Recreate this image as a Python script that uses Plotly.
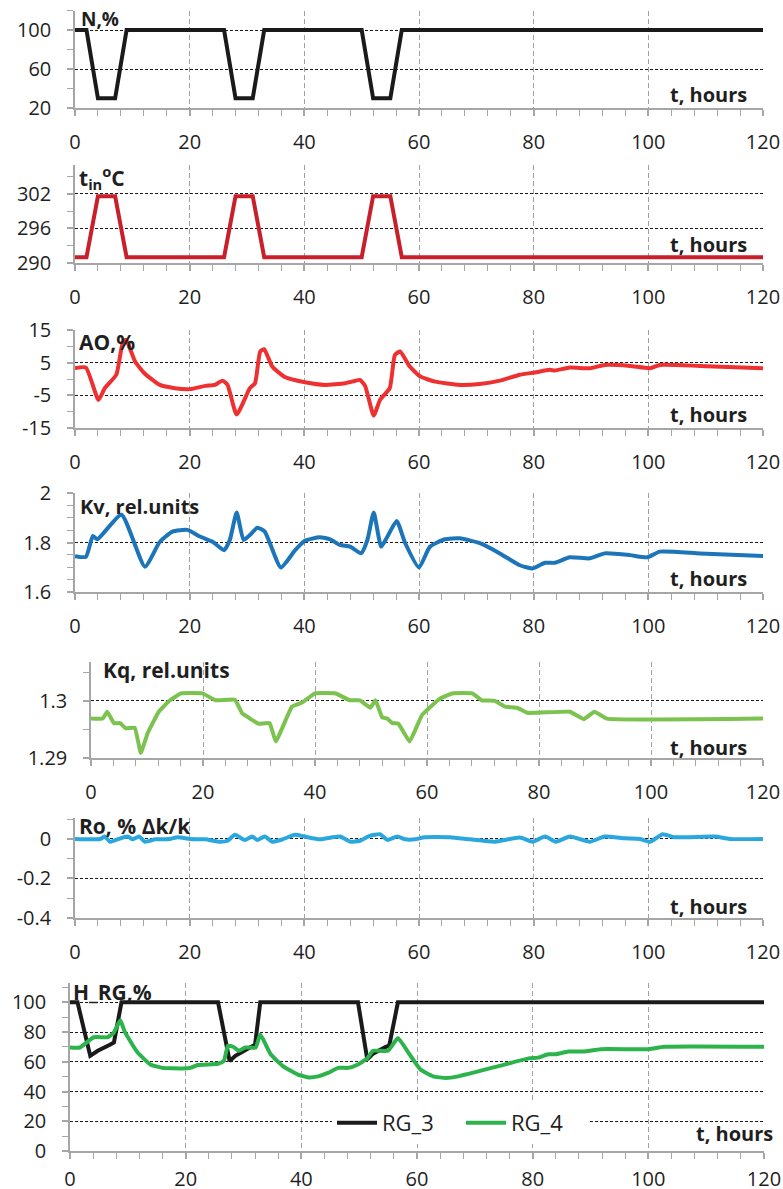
import plotly.graph_objects as go

W, H = 783, 1189


def px(x):
    return x / W


def py(y):
    return 1 - y / H


# ---------------- data ----------------
t_N = [0, 2, 4, 7, 9, 26, 28, 31, 33, 50, 52, 55, 57, 120]
N_pct = [100, 100, 30, 30, 100, 100, 30, 30, 100, 100, 30, 30, 100, 100]

t_tin = [0, 2, 4, 7, 9, 26, 28, 31, 33, 50, 52, 55, 57, 120]
tin_C = [291, 291, 301.6, 301.6, 291, 291, 301.6, 301.6, 291, 291, 301.6, 301.6, 291, 291]

t_AO = [0, 1.9, 4.1, 5.2, 7.2, 8.3, 8.9, 10.5, 12.2, 14.8, 17.4, 20.1, 22.7, 24.4, 25.7, 26.6,
        28.2, 30.5, 31.4, 32.3, 33, 34.4, 36.6, 40.1, 43.6, 47.1, 48.8, 49.7, 50.6, 52.1, 53.2,
        54.9, 55.8, 56.7, 58.4, 60.2, 62.8, 67.1, 70.6, 74.1, 77.6, 80.2, 82.8, 83.7, 86.3, 89.8,
        92.4, 96.8, 100.3, 102, 109, 120]
AO_pct = [3.3, 3.5, -6.4, -2.8, 1.3, 10.9, 12, 5.3, 1.6, -1.8, -2.8, -3.1, -2.1, -1.8, -0.5, -1.8,
          -10.9, -2.8, -1.3, 8.4, 9.1, 3.8, 0.6, -1.0, -1.8, -1.3, -0.6, -0.3, -2.1, -11.2, -6.4,
          -2.8, 7.4, 8.4, 3.8, 0.8, -0.8, -1.8, -1.5, -0.5, 1.3, 2.0, 2.8, 2.6, 3.5, 3.3,
          4.3, 4.0, 3.3, 4.3, 4.0, 3.3]

t_Kv = [0, 1.9, 3.1, 3.9, 8.1, 12.2, 14.8, 17.0, 19.6, 21.8, 24.0, 26, 27, 28.2, 29.4, 30.5, 31.8,
        33.1, 35.9, 38.4, 40.1, 42.7, 44.5, 46.2, 48, 49.9, 51, 52.1, 53.4, 54.5, 56.1, 57.6, 60,
        61.9, 64.5, 67.1, 70.6, 74.1, 77.6, 79.8, 82, 83.7, 86.3, 89.8, 92.4, 96.8, 99.8, 102, 109, 120]
Kv = [1.745, 1.742, 1.826, 1.813, 1.912, 1.702, 1.803, 1.844, 1.851, 1.824, 1.803, 1.769, 1.81,
      1.921, 1.81, 1.83, 1.86, 1.844, 1.699, 1.769, 1.807, 1.821, 1.813, 1.79, 1.783, 1.756, 1.81,
      1.921, 1.783, 1.824, 1.887, 1.797, 1.699, 1.783, 1.813, 1.817, 1.797, 1.756, 1.708, 1.695,
      1.718, 1.718, 1.740, 1.736, 1.756, 1.749, 1.740, 1.763, 1.756, 1.745]

t_Kq = [0, 2.1, 2.9, 4.1, 5.2, 6.2, 7.8, 8.9, 10.1, 12.1, 14.1, 16.1, 19.9, 22.2, 25.7, 27, 28.4,
        29.9, 31.9, 33, 35.9, 37.7, 40, 43.7, 46.2, 48, 49.9, 50.8, 52, 52.9, 53.8, 54.9, 56.9, 59.1,
        62.3, 64.5, 68.1, 69.8, 72.1, 73.9, 76.1, 77.9, 85.5, 88, 89.9, 92.1, 120]
Kq = [1.2969, 1.2969, 1.2981, 1.2961, 1.2961, 1.2952, 1.2953, 1.2909, 1.2943, 1.2981, 1.3001,
      1.3013, 1.3013, 1.3001, 1.3002, 1.2978, 1.2969, 1.2960, 1.2961, 1.2929, 1.2990, 1.2997,
      1.3013, 1.3013, 1.3001, 1.3001, 1.2988, 1.3001, 1.2971, 1.2969, 1.2961, 1.2960, 1.2929,
      1.2975, 1.3004, 1.3013, 1.3013, 1.3001, 1.3, 1.2990, 1.2988, 1.2979, 1.2981, 1.2968,
      1.2981, 1.2969, 1.2969]

t_Ro = [0, 4.4, 5.2, 6.1, 7.4, 9.2, 10, 11.2, 12.2, 14, 16.6, 17.9, 20.1, 22.7, 25.3, 26.6, 27.9,
        29.6, 30.9, 31.8, 33.1, 34.4, 36.2, 38.4, 40.1, 42.7, 46.2, 48, 49.7, 51.4, 53.2, 54.5,
        56.2, 57.6, 59.3, 61, 65.4, 68.9, 73.2, 77.6, 79.8, 82, 83.9, 86.3, 89.8, 92.4, 95.9,
        98.5, 100.3, 102.5, 104.6, 111.6, 114.2, 120]
Ro = [0, 0, 0.012, -0.014, -0.002, 0.012, -0.002, 0.012, -0.014, -0.002, 0, 0.009, 0, -0.002,
      -0.014, -0.009, 0.021, -0.005, 0.012, -0.005, 0.012, -0.014, -0.002, 0.021, 0.012, -0.002,
      0.012, -0.014, -0.009, 0.016, 0.024, -0.005, 0.012, -0.002, -0.002, 0.009, 0.009, -0.002,
      -0.014, 0.007, -0.014, 0.012, -0.014, 0.012, -0.014, 0.012, 0.003, 0, -0.014, 0.024,
      0.009, 0.012, 0, 0]

t_RG3 = [0, 1.3, 3.5, 4.8, 6.9, 7.6, 8.9, 25.6, 27.6, 28.6, 30.8, 32, 32.9, 49.8, 51.4, 52.4,
         54.6, 55.2, 56.7, 120]
RG_3 = [100, 100, 64, 67.4, 71.5, 73, 100, 100, 60.5, 64, 69, 71.5, 100, 100, 61.6, 65.5,
        70, 70.8, 100, 100]

t_RG4 = [0, 1.7, 4.1, 6.5, 7.5, 8.7, 9.5, 11.7, 13.9, 16, 19.5, 20.8, 22.1, 25.6, 26.6, 27.3,
         28.2, 29.2, 30.3, 32.1, 32.9, 34.7, 36.8, 39.4, 41.2, 42.9, 44.6, 46.4, 48.1, 49.8,
         51.4, 52.4, 55, 56.7, 58.5, 60.6, 62.8, 65, 67.1, 74.1, 79.3, 80.9, 82.7, 84, 86.2,
         88.8, 91.8, 100.1, 102.7, 120]
RG_4 = [69.6, 69.6, 76.5, 76.5, 79.2, 87.9, 79.9, 66.2, 58.2, 55.9, 55.5, 55.9, 57.8, 58.7,
        60.5, 70.8, 70.1, 67.4, 69.6, 69.6, 78.3, 65.1, 57.1, 51.4, 49.5, 50.2, 52.5, 55.9,
        55.9, 58.2, 62.3, 67.4, 67.4, 76, 66.2, 54.8, 50.2, 49.1, 50.2, 57.1, 62.3, 62.8, 65.1,
        65.1, 66.9, 66.9, 68.5, 68.5, 70.1, 70.1]

x_ticks = [0, 20, 40, 60, 80, 100, 120]

titles = ["N,%", "t<sub>in</sub><sup>o</sup>C", "AO,%", "Kv, rel.units", "Kq, rel.units",
          "Ro, % Δk/k", "H_RG,%"]
y_ranges = [[20, 120], [290, 307], [-15, 15], [1.6, 2.0], [1.29, 1.3068], [-0.4, 0.106], [0, 113]]
y_tickvals = [[20, 60, 100], [290, 296, 302], [-15, -5, 5, 15], [1.6, 1.8, 2.0], [1.29, 1.3],
              [-0.4, -0.2, 0], [0, 20, 40, 60, 80, 100]]
y_ticktext = [["20", "60", "100"], ["290", "296", "302"], ["-15", "-5", "5", "15"],
              ["1.6", "1.8", "2"], ["1.29", "1.3"], ["-0.4", "-0.2", "0"],
              ["0", "20", "40", "60", "80", "100"]]
y_minor = [20, 3, 5, 0.05, 0.005, 0.1, 10]

# layout geometry in page pixels: (x_left, x_right, y_top, y_bottom)
boxes = [(75, 763, 10.5, 108), (75, 763, 165, 263), (75, 763, 330, 428), (75, 763, 493, 592),
         (91, 763, 662, 758), (75, 763, 818, 918), (70, 764, 983, 1151)]
title_pos = [(79, 19), (77, 178), (77, 342), (78, 507), (101, 670), (77, 826), (71, 992)]
title_size = [19, 21, 21, 20, 21, 21, 21]
hours_y = [95, 244, 415, 578, 747, 906, 1133]
hours_x = [749, 749, 749, 749, 749, 749, 775]

FONT = "Open Sans"
TXT = "#1f1f1f"
AXC = "#a6a6a6"

fig = go.Figure()

series = [
    (t_N, N_pct, "#1a1a1a", "linear", 0),
    (t_tin, tin_C, "#c8202b", "linear", 0),
    (t_AO, AO_pct, "#ee3030", "spline", 0.5),
    (t_Kv, Kv, "#1c74b9", "spline", 0.5),
    (t_Kq, Kq, "#7cc24e", "spline", 0.3),
    (t_Ro, Ro, "#2aa7df", "spline", 0.5),
]
for i, (tx, yv, col, shp, sm) in enumerate(series, start=1):
    ln = dict(color=col, width=4, shape=shp)
    if shp == "spline":
        ln["smoothing"] = sm
    fig.add_trace(go.Scatter(x=tx, y=yv, mode="lines", xaxis=f"x{i}", yaxis=f"y{i}",
                             line=ln, showlegend=False))
fig.add_trace(go.Scatter(x=t_RG3, y=RG_3, mode="lines", name="RG_3", xaxis="x7", yaxis="y7",
                         line=dict(color="#1a1a1a", width=4)))
fig.add_trace(go.Scatter(x=t_RG4, y=RG_4, mode="lines", name="RG_4", xaxis="x7", yaxis="y7",
                         line=dict(color="#2db34b", width=4, shape="spline", smoothing=0.4)))

layout = {}
annotations = []
for k in range(7):
    i = k + 1
    xl, xr, yt, yb = boxes[k]
    layout[f"xaxis{i}"] = dict(
        domain=[px(xl), px(xr)], anchor=f"y{i}", range=[0, 120], automargin=False,
        tickvals=x_ticks, ticktext=[str(v) for v in x_ticks], ticklabeloverflow="allow",
        showline=True, linecolor=AXC, linewidth=1.5, mirror=False,
        ticks="outside", ticklen=6, tickcolor=AXC, tickwidth=1.5,
        minor=dict(dtick=4, tick0=0, ticks="outside", ticklen=6, tickcolor=AXC, tickwidth=1,
                   showgrid=False),
        showgrid=True, gridcolor="#a0a0a0", griddash="5px,3px", gridwidth=1,
        zeroline=False, tickfont=dict(family=FONT, size=20, color=TXT),
        ticklabelstandoff=9 if i < 7 else 3, fixedrange=True,
    )
    layout[f"yaxis{i}"] = dict(
        domain=[py(yb), py(yt)], anchor=f"x{i}", range=y_ranges[k], automargin=False,
        tickvals=y_tickvals[k], ticktext=y_ticktext[k], ticklabeloverflow="allow",
        showline=True, linecolor=AXC, linewidth=1.5,
        ticks="outside", ticklen=6, tickcolor=AXC, tickwidth=1.5,
        minor=dict(dtick=y_minor[k], tick0=y_ranges[k][0], ticks="outside", ticklen=6,
                   tickcolor=AXC, tickwidth=1, showgrid=False),
        showgrid=True, gridcolor="#1a1a1a", griddash="3px,2px", gridwidth=1,
        zeroline=False, tickfont=dict(family=FONT, size=20, color=TXT),
        ticklabelstandoff=12, fixedrange=True,
    )
    tx, ty = title_pos[k]
    annotations.append(dict(text=f"<b>{titles[k]}</b>", x=px(tx), y=py(ty), xref="paper",
                            yref="paper", xanchor="left", yanchor="middle", showarrow=False,
                            font=dict(family=FONT, size=title_size[k], color=TXT)))
    annotations.append(dict(text="<b>t, hours</b>", x=px(hours_x[k]), y=py(hours_y[k]),
                            xref="paper", yref="paper", xanchor="right", yanchor="middle",
                            showarrow=False, font=dict(family=FONT, size=20, color=TXT)))

fig.update_layout(
    width=W, height=H, margin=dict(l=0, r=0, t=0, b=0, autoexpand=False),
    paper_bgcolor="white", plot_bgcolor="white",
    font=dict(family=FONT, color=TXT),
    annotations=annotations,
    showlegend=True,
    legend=dict(orientation="h", x=px(332), y=py(1123), xanchor="left", yanchor="middle",
                bgcolor="white", font=dict(family=FONT, size=22, color=TXT),
                itemwidth=40, entrywidth=74, entrywidthmode="pixels"),
    **layout,
)

fig.write_html("out.html", config={"displayModeBar": False},
               post_script="document.body.style.margin='0';document.body.style.overflow='hidden';")
